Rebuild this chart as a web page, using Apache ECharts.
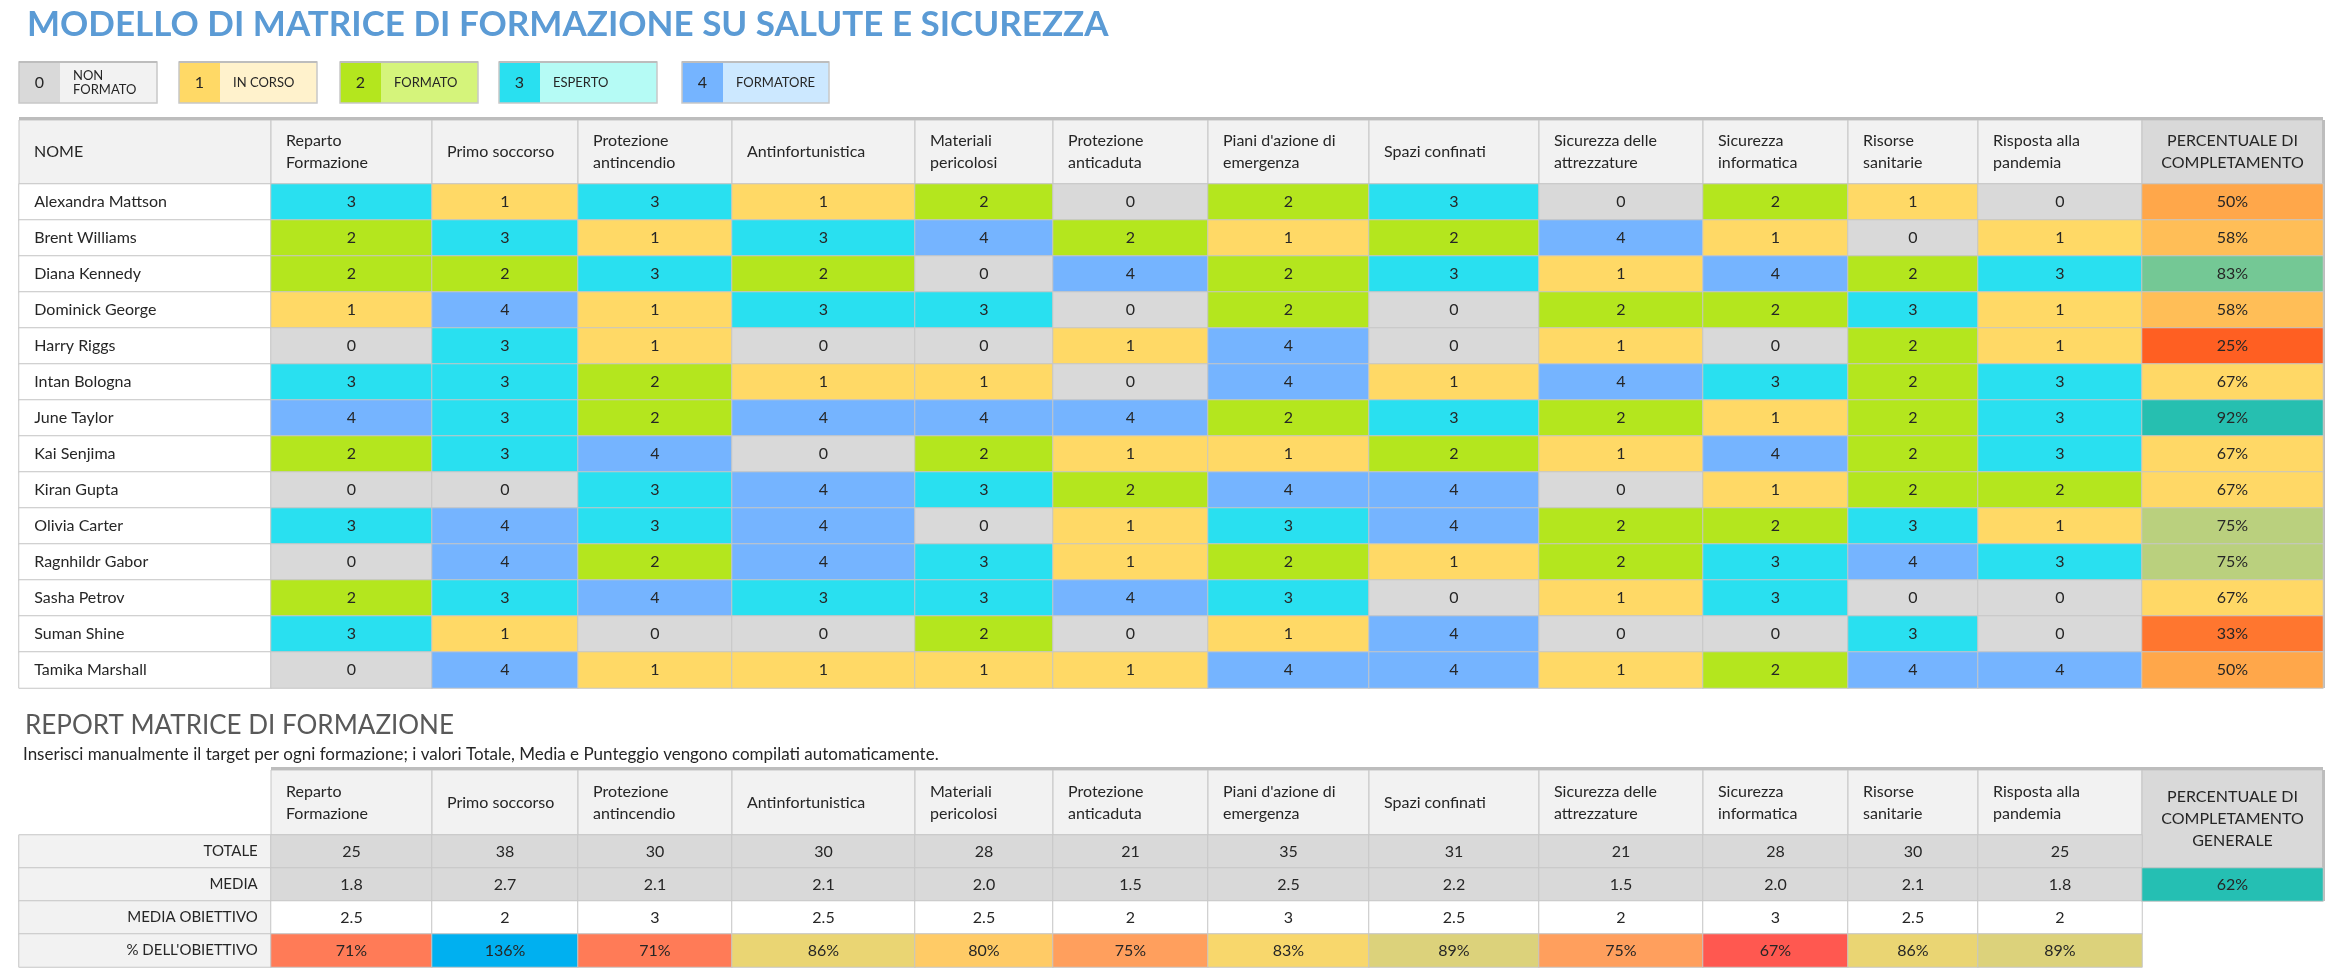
<!DOCTYPE html>
<html><head><meta charset="utf-8">
<script src="https://cdn.jsdelivr.net/npm/echarts@6/dist/echarts.min.js"></script>
<style>html,body{margin:0;padding:0;background:#fff}#c{width:2341px;height:978px}</style>
</head><body><div id="c"></div>
<script>
// ---------- DATA ----------
const chartTitle = 'MODELLO DI MATRICE DI FORMAZIONE SU SALUTE E SICUREZZA';
const levelNumbers = ['0', '1', '2', '3', '4'];
const levelLabels = ['NON\nFORMATO', 'IN CORSO', 'FORMATO', 'ESPERTO', 'FORMATORE'];
const nameHeader = 'NOME';
const courses = ['Reparto\nFormazione', 'Primo soccorso', 'Protezione\nantincendio', 'Antinfortunistica',
  'Materiali\npericolosi', 'Protezione\nanticaduta', "Piani d'azione di\nemergenza", 'Spazi confinati',
  'Sicurezza delle\nattrezzature', 'Sicurezza\ninformatica', 'Risorse\nsanitarie', 'Risposta alla\npandemia'];
const completionHeader = 'PERCENTUALE DI\nCOMPLETAMENTO';
const names = ['Alexandra Mattson', 'Brent Williams', 'Diana Kennedy', 'Dominick George', 'Harry Riggs',
  'Intan Bologna', 'June Taylor', 'Kai Senjima', 'Kiran Gupta', 'Olivia Carter', 'Ragnhildr Gabor',
  'Sasha Petrov', 'Suman Shine', 'Tamika Marshall'];
const scores = [
  [3, 1, 3, 1, 2, 0, 2, 3, 0, 2, 1, 0],
  [2, 3, 1, 3, 4, 2, 1, 2, 4, 1, 0, 1],
  [2, 2, 3, 2, 0, 4, 2, 3, 1, 4, 2, 3],
  [1, 4, 1, 3, 3, 0, 2, 0, 2, 2, 3, 1],
  [0, 3, 1, 0, 0, 1, 4, 0, 1, 0, 2, 1],
  [3, 3, 2, 1, 1, 0, 4, 1, 4, 3, 2, 3],
  [4, 3, 2, 4, 4, 4, 2, 3, 2, 1, 2, 3],
  [2, 3, 4, 0, 2, 1, 1, 2, 1, 4, 2, 3],
  [0, 0, 3, 4, 3, 2, 4, 4, 0, 1, 2, 2],
  [3, 4, 3, 4, 0, 1, 3, 4, 2, 2, 3, 1],
  [0, 4, 2, 4, 3, 1, 2, 1, 2, 3, 4, 3],
  [2, 3, 4, 3, 3, 4, 3, 0, 1, 3, 0, 0],
  [3, 1, 0, 0, 2, 0, 1, 4, 0, 0, 3, 0],
  [0, 4, 1, 1, 1, 1, 4, 4, 1, 2, 4, 4]
];
const completion = [50, 58, 83, 58, 25, 67, 92, 67, 67, 75, 75, 67, 33, 50];

const reportTitle = 'REPORT MATRICE DI FORMAZIONE';
const reportNote = 'Inserisci manualmente il target per ogni formazione; i valori Totale, Media e Punteggio vengono compilati automaticamente.';
const reportRows = ['TOTALE', 'MEDIA', 'MEDIA OBIETTIVO', "% DELL'OBIETTIVO"];
const totals = [25, 38, 30, 30, 28, 21, 35, 31, 21, 28, 30, 25];
const averages = [1.8, 2.7, 2.1, 2.1, 2.0, 1.5, 2.5, 2.2, 1.5, 2.0, 2.1, 1.8];
const targets = [2.5, 2, 3, 2.5, 2.5, 2, 3, 2.5, 2, 3, 2.5, 2];
const targetPct = [71, 136, 71, 86, 80, 75, 83, 89, 75, 67, 86, 89];
const overallHeader = 'PERCENTUALE DI\nCOMPLETAMENTO\nGENERALE';
const overallPct = 62;

// ---------- LAYOUT / STYLE ----------
const FONT = 'Lato';
const INK = '#262626';
const LINE = '#C6C6C6';
const EDGES = [19, 271, 432, 578, 732, 915, 1053, 1208, 1369, 1539, 1703, 1848, 1978, 2142, 2323];
const T = { lineY: 117, headTop: 120, bodyTop: 184, rowH: 36 };
const B = { lineY: 767, headTop: 770, bodyTop: 835, rowH: 33 };
const levelColors = ['#D9D9D9', '#FFD966', '#B4E61E', '#29E0F0', '#75B4FF'];
const levelLight = ['#F2F2F2', '#FFF2CC', '#D5F47B', '#B5FBF5', '#CCE8FF'];
const compStops = [[25, [255, 95, 34]], [67, [255, 216, 102]], [92, [38, 191, 176]]];
const pctStops = [[67, [255, 88, 80]], [81.5, [255, 216, 104]], [136, [0, 176, 240]]];
const overallColor = '#25BFB3';

function scaleColor(stops, v) {
  if (v <= stops[0][0]) return 'rgb(' + stops[0][1].join(',') + ')';
  for (let i = 1; i < stops.length; i++) {
    if (v <= stops[i][0]) {
      const t = (v - stops[i - 1][0]) / (stops[i][0] - stops[i - 1][0]);
      const a = stops[i - 1][1], b = stops[i][1];
      return 'rgb(' + a.map((x, k) => Math.round(x + (b[k] - x) * t)).join(',') + ')';
    }
  }
  return 'rgb(' + stops[stops.length - 1][1].join(',') + ')';
}

const grids = [], xAxes = [], yAxes = [], series = [], graphics = [];

function addColumn(left, right, top, rowH, rowCats, cells, labelOpt) {
  const gi = grids.length;
  grids.push({ left: left, top: top, width: right - left, height: rowCats.length * rowH });
  xAxes.push({ type: 'category', gridIndex: gi, data: ['c'], show: false });
  yAxes.push({ type: 'category', gridIndex: gi, data: rowCats, inverse: true, show: false });
  series.push({
    type: 'heatmap', xAxisIndex: gi, yAxisIndex: gi, silent: true,
    data: cells.map((c, r) => ({ value: [0, r, c.v], itemStyle: { color: c.color } })),
    itemStyle: { borderColor: LINE, borderWidth: 1 },
    emphasis: { disabled: true },
    label: Object.assign({
      show: true, fontFamily: FONT, fontSize: 16, color: INK,
      formatter: p => cells[p.dataIndex].text
    }, labelOpt || {})
  });
}

function headerCell(x0, x1, y0, y1, text, fill, center) {
  graphics.push({ type: 'rect', shape: { x: x0, y: y0, width: x1 - x0, height: y1 - y0 },
    style: { fill: fill, stroke: LINE, lineWidth: 1 }, silent: true });
  graphics.push({ type: 'text', silent: true, style: {
    text: text, x: center ? (x0 + x1) / 2 : x0 + 15, y: (y0 + y1) / 2,
    textAlign: center ? 'center' : 'left', textVerticalAlign: 'middle',
    font: '16px ' + FONT, lineHeight: 22, fill: INK } });
}

// ---------- TITLE + LEGEND ----------
graphics.push({ type: 'text', silent: true, style: { text: chartTitle, x: 27, y: 25, textVerticalAlign: 'middle',
  font: 'bold 35px ' + FONT, fill: '#5B9BD5' } });
const legX = [19, 179, 340, 499, 682], legW = [138, 138, 138, 158, 147];
levelNumbers.forEach((n, i) => {
  const x = legX[i], y = 62, h = 41, nw = 41;
  graphics.push({ type: 'rect', silent: true, shape: { x: x, y: y, width: nw, height: h }, style: { fill: levelColors[i] } });
  graphics.push({ type: 'rect', silent: true, shape: { x: x + nw, y: y, width: legW[i] - nw, height: h }, style: { fill: levelLight[i] } });
  graphics.push({ type: 'rect', silent: true, shape: { x: x, y: y, width: legW[i], height: h }, style: { fill: 'none', stroke: '#C8C8C8', lineWidth: 1.5 } });
  graphics.push({ type: 'rect', silent: true, shape: { x: x, y: y - 1, width: legW[i], height: 2 }, style: { fill: '#BDBDBD' } });
  graphics.push({ type: 'text', silent: true, style: { text: n, x: x + nw / 2, y: y + h / 2, textAlign: 'center', textVerticalAlign: 'middle', font: '16px ' + FONT, fill: INK } });
  graphics.push({ type: 'text', silent: true, style: { text: levelLabels[i], x: x + nw + 13, y: y + h / 2, textVerticalAlign: 'middle', font: '13px ' + FONT, lineHeight: 14, fill: INK } });
});

// ---------- MAIN TABLE ----------
headerCell(EDGES[0], EDGES[1], T.headTop, T.bodyTop, nameHeader, '#F2F2F2', false);
courses.forEach((c, k) => headerCell(EDGES[k + 1], EDGES[k + 2], T.headTop, T.bodyTop, c, '#F2F2F2', false));
headerCell(EDGES[13], EDGES[14], T.headTop, T.bodyTop, completionHeader, '#D9D9D9', true);

addColumn(EDGES[0], EDGES[1], T.bodyTop, T.rowH, names,
  names.map(n => ({ v: 0, color: '#FFFFFF', text: n })), { position: 'insideLeft', distance: 16 });
courses.forEach((c, k) => {
  addColumn(EDGES[k + 1], EDGES[k + 2], T.bodyTop, T.rowH, names,
    scores.map(row => ({ v: row[k], color: levelColors[row[k]], text: String(row[k]) })));
});
addColumn(EDGES[13], EDGES[14], T.bodyTop, T.rowH, names,
  completion.map(v => ({ v: v, color: scaleColor(compStops, v), text: v + '%' })));

graphics.push({ type: 'rect', silent: true, shape: { x: EDGES[0], y: T.lineY, width: EDGES[14] - EDGES[0], height: 3 }, style: { fill: '#BDBDBD' } });
graphics.push({ type: 'rect', silent: true, shape: { x: EDGES[14] - 1, y: T.headTop, width: 3, height: T.bodyTop - T.headTop + names.length * T.rowH }, style: { fill: '#BDBDBD' } });

// ---------- REPORT ----------
graphics.push({ type: 'text', silent: true, style: { text: reportTitle, x: 25, y: 726, textVerticalAlign: 'middle', font: '26px ' + FONT, fill: '#595959' } });
graphics.push({ type: 'text', silent: true, style: { text: reportNote, x: 23, y: 755, textVerticalAlign: 'middle', font: '17px ' + FONT, fill: INK } });

courses.forEach((c, k) => headerCell(EDGES[k + 1], EDGES[k + 2], B.headTop, B.bodyTop, c, '#F2F2F2', false));
headerCell(EDGES[13], EDGES[14], B.headTop, B.bodyTop + B.rowH, overallHeader, '#D9D9D9', true);

addColumn(EDGES[0], EDGES[1], B.bodyTop, B.rowH, reportRows,
  reportRows.map(r => ({ v: 0, color: '#F2F2F2', text: r })), { position: 'insideRight', distance: 14, fontSize: 15 });
courses.forEach((c, k) => {
  const cells = [
    { v: totals[k], color: '#D9D9D9', text: String(totals[k]) },
    { v: averages[k], color: '#D9D9D9', text: averages[k].toFixed(1) },
    { v: targets[k], color: '#FFFFFF', text: String(targets[k]) },
    { v: targetPct[k], color: scaleColor(pctStops, targetPct[k]), text: targetPct[k] + '%' }
  ];
  addColumn(EDGES[k + 1], EDGES[k + 2], B.bodyTop, B.rowH, reportRows, cells);
});
addColumn(EDGES[13], EDGES[14], B.bodyTop + B.rowH, B.rowH, ['GENERALE'],
  [{ v: overallPct, color: overallColor, text: overallPct + '%' }]);

graphics.push({ type: 'rect', silent: true, shape: { x: EDGES[1], y: B.lineY, width: EDGES[14] - EDGES[1], height: 3 }, style: { fill: '#BDBDBD' } });
graphics.push({ type: 'rect', silent: true, shape: { x: EDGES[14] - 1, y: B.headTop, width: 3, height: B.bodyTop - B.headTop + 2 * B.rowH }, style: { fill: '#BDBDBD' } });

const chart = echarts.init(document.getElementById('c'), null, { renderer: 'canvas' });
chart.setOption({
  animation: false,
  backgroundColor: '#FFFFFF',
  textStyle: { fontFamily: FONT },
  grid: grids, xAxis: xAxes, yAxis: yAxes, series: series,
  graphic: { elements: graphics }
});
</script></body></html>
